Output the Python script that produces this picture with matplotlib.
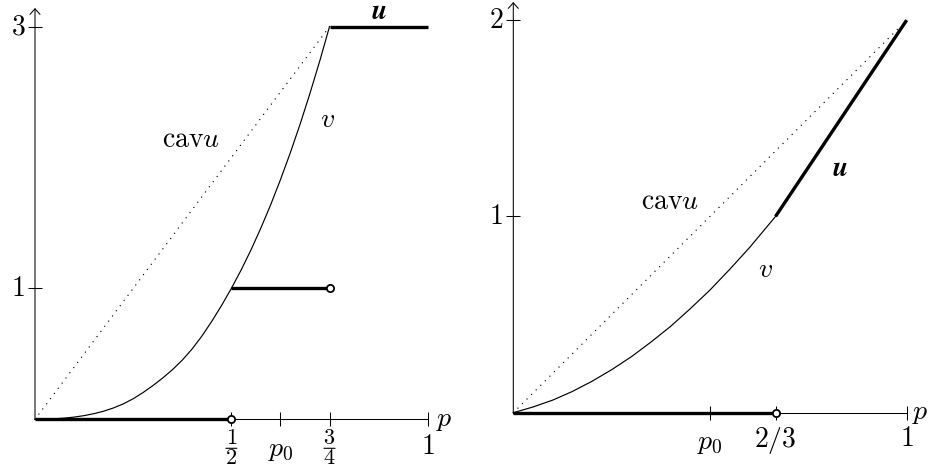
import matplotlib
matplotlib.use("Agg")
import matplotlib.pyplot as plt
from matplotlib.patches import FancyArrowPatch
from matplotlib.transforms import offset_copy

plt.rcParams['mathtext.fontset'] = 'cm'
plt.rcParams['font.family'] = ['DejaVu Serif']

# ---------------- data: left panel ----------------
left_u_edges = [0, 0.5, 0.75, 1]
left_u_levels = [0, 1, 3]
left_open_p = [0.5, 0.75]
left_open_u = [0, 1]
left_v_p = [0, 0.025, 0.05, 0.075, 0.10, 0.125, 0.15, 0.175, 0.20, 0.225,
            0.25, 0.275, 0.30, 0.325, 0.35, 0.375, 0.40, 0.425, 0.45, 0.475,
            0.50, 0.525, 0.55, 0.575, 0.60, 0.625, 0.65, 0.675, 0.70, 0.725,
            0.75]
left_v = [0, 0.001, 0.004, 0.009, 0.017, 0.028, 0.043, 0.062, 0.087, 0.118,
          0.157, 0.204, 0.257, 0.315, 0.379, 0.452, 0.537, 0.636, 0.748, 0.869,
          1.0, 1.141, 1.294, 1.460, 1.638, 1.830, 2.035, 2.254, 2.488, 2.736,
          3.0]
left_cav_p = [0, 0.75]
left_cav = [0, 3]
left_xticks = [0.5, 0.625, 0.75, 1]
left_xlabels = [('1', '2'), r'$p_0$', ('3', '4'), r'$1$']
left_yticks = [1, 3]
left_ylabels = [r'$1$', r'$3$']

# ---------------- data: right panel ----------------
right_u0_p = [0, 2/3]
right_u0 = [0, 0]
right_u1_p = [2/3, 1]
right_u1 = [1, 2]
right_open_p = [2/3]
right_open_u = [0]
right_v_p = [0, 0.05, 0.10, 0.15, 0.20, 0.25, 0.30, 0.35, 0.40, 0.45, 0.50,
             0.55, 0.60, 2/3]
right_v = [0, 0.029, 0.064, 0.108, 0.16, 0.219, 0.285, 0.36, 0.44, 0.53,
           0.625, 0.73, 0.84, 1.0]
right_cav_p = [0, 0.985]
right_cav = [0, 1.97]
right_xticks = [0.5, 2/3, 1]
right_xlabels = [r'$p_0$', r'$2/3$', r'$1$']
right_yticks = [1, 2]
right_ylabels = [r'$1$', r'$2$']

FS = 20
FRAC_FS = 16
THICK = 2.4
THIN = 0.85
AXW = 0.75

fig = plt.figure(figsize=(9.34, 4.72), dpi=100)
axL = fig.add_axes([0, 0, 467/934, 1])
axR = fig.add_axes([467/934, 0, 467/934, 1])

axL.set_xlim(-0.08913, 1.10008)
axL.set_ylim(-0.40260, 3.20321)
axR.set_xlim(-0.11769, 1.06940)
axR.set_ylim(-0.30209, 2.10239)
for ax in (axL, axR):
    ax.axis('off')


def frac_label(ax, x, num, den):
    ax.annotate('$%s$' % num, xy=(x, 0), xytext=(0, -19), textcoords='offset pixels',
                ha='center', va='center', fontsize=FRAC_FS)
    ax.annotate('$%s$' % den, xy=(x, 0), xytext=(0, -39), textcoords='offset pixels',
                ha='center', va='center', fontsize=FRAC_FS)
    # horizontal fraction bar, about 11 px wide
    tl = offset_copy(ax.transData, fig=fig, x=-5.5, y=-29, units='dots')
    tr = offset_copy(ax.transData, fig=fig, x=5.5, y=-29, units='dots')
    ax.annotate('', xy=(x, 0), xytext=(x, 0), xycoords=tr, textcoords=tl,
                arrowprops=dict(arrowstyle='-', lw=0.8, color='black',
                                shrinkA=0, shrinkB=0))


def axes_frame(ax, ytop, xticks, xlabels, xoffs, yticks, ylabels, yoff, poff):
    ax.plot([0, 1], [0, 0], color='black', lw=AXW, zorder=1)
    arr = FancyArrowPatch((0, 0), (0, ytop), arrowstyle='->,head_length=0.4,head_width=0.36',
                          mutation_scale=10, color='black', lw=AXW, zorder=1,
                          shrinkA=0, shrinkB=0)
    ax.add_patch(arr)
    ax.plot(xticks, [0]*len(xticks), ls='none', marker='|', ms=10, mew=AXW,
            color='black', zorder=1)
    ax.plot([0]*len(yticks), yticks, ls='none', marker='_', ms=10, mew=AXW,
            color='black', zorder=1)
    for x, lab, off in zip(xticks, xlabels, xoffs):
        if isinstance(lab, tuple):
            frac_label(ax, x, lab[0], lab[1])
        else:
            ax.annotate(lab, xy=(x, 0), xytext=(0, -off), textcoords='offset pixels',
                        ha='center', va='center', fontsize=FS)
    for y, lab in zip(yticks, ylabels):
        ax.annotate(lab, xy=(0, y), xytext=(-yoff, 0), textcoords='offset pixels',
                    ha='center', va='center', fontsize=FS)
    ax.annotate(r'$p$', xy=(1, 0), xytext=(poff, 0), textcoords='offset pixels',
                ha='center', va='center', fontsize=FS)


dot_style = dict(color='black', lw=1.0, dashes=(0.05, 4.6), dash_capstyle='round', zorder=2)
thin_style = dict(color='black', lw=THIN, zorder=3)
thick_style = dict(color='black', lw=THICK, solid_capstyle='butt', zorder=4)
open_style = dict(ls='none', marker='o', ms=5.2, mew=1.3, mfc='white', mec='black', zorder=6)

# left panel
axes_frame(axL, 3.142, left_xticks, left_xlabels, [32, 30, 32, 27],
           left_yticks, left_ylabels, 17, 17)
axL.plot(left_cav_p, left_cav, **dot_style)
axL.plot(left_v_p, left_v, **thin_style)
for i, lev in enumerate(left_u_levels):
    axL.plot([left_u_edges[i], left_u_edges[i+1]], [lev, lev], **thick_style)
axL.plot(left_open_p, left_open_u, **open_style)
axL.text(0.397, 2.134, r'$\mathrm{cav}u$', ha='center', va='center', fontsize=FS)
axL.text(0.7436, 2.287, r'$v$', ha='center', va='center', fontsize=FS)
axL.text(0.876, 3.113, r'$\boldsymbol{u}$', ha='center', va='center', fontsize=FS)

# right panel
axes_frame(axR, 2.092, right_xticks, right_xlabels, [30, 28, 26],
           right_yticks, right_ylabels, 17, 14)
axR.plot(right_cav_p, right_cav, **dot_style)
axR.plot(right_v_p, right_v, **thin_style)
axR.plot(right_u0_p, right_u0, **thick_style)
axR.plot(right_u1_p, right_u1, **thick_style)
axR.plot(right_open_p, right_open_u, **open_style)
axR.text(0.398, 1.078, r'$\mathrm{cav}u$', ha='center', va='center', fontsize=FS)
axR.text(0.642, 0.727, r'$v$', ha='center', va='center', fontsize=FS)
axR.text(0.8304, 1.2415, r'$\boldsymbol{u}$', ha='center', va='center', fontsize=FS)

fig.savefig('out.png', dpi=100)
